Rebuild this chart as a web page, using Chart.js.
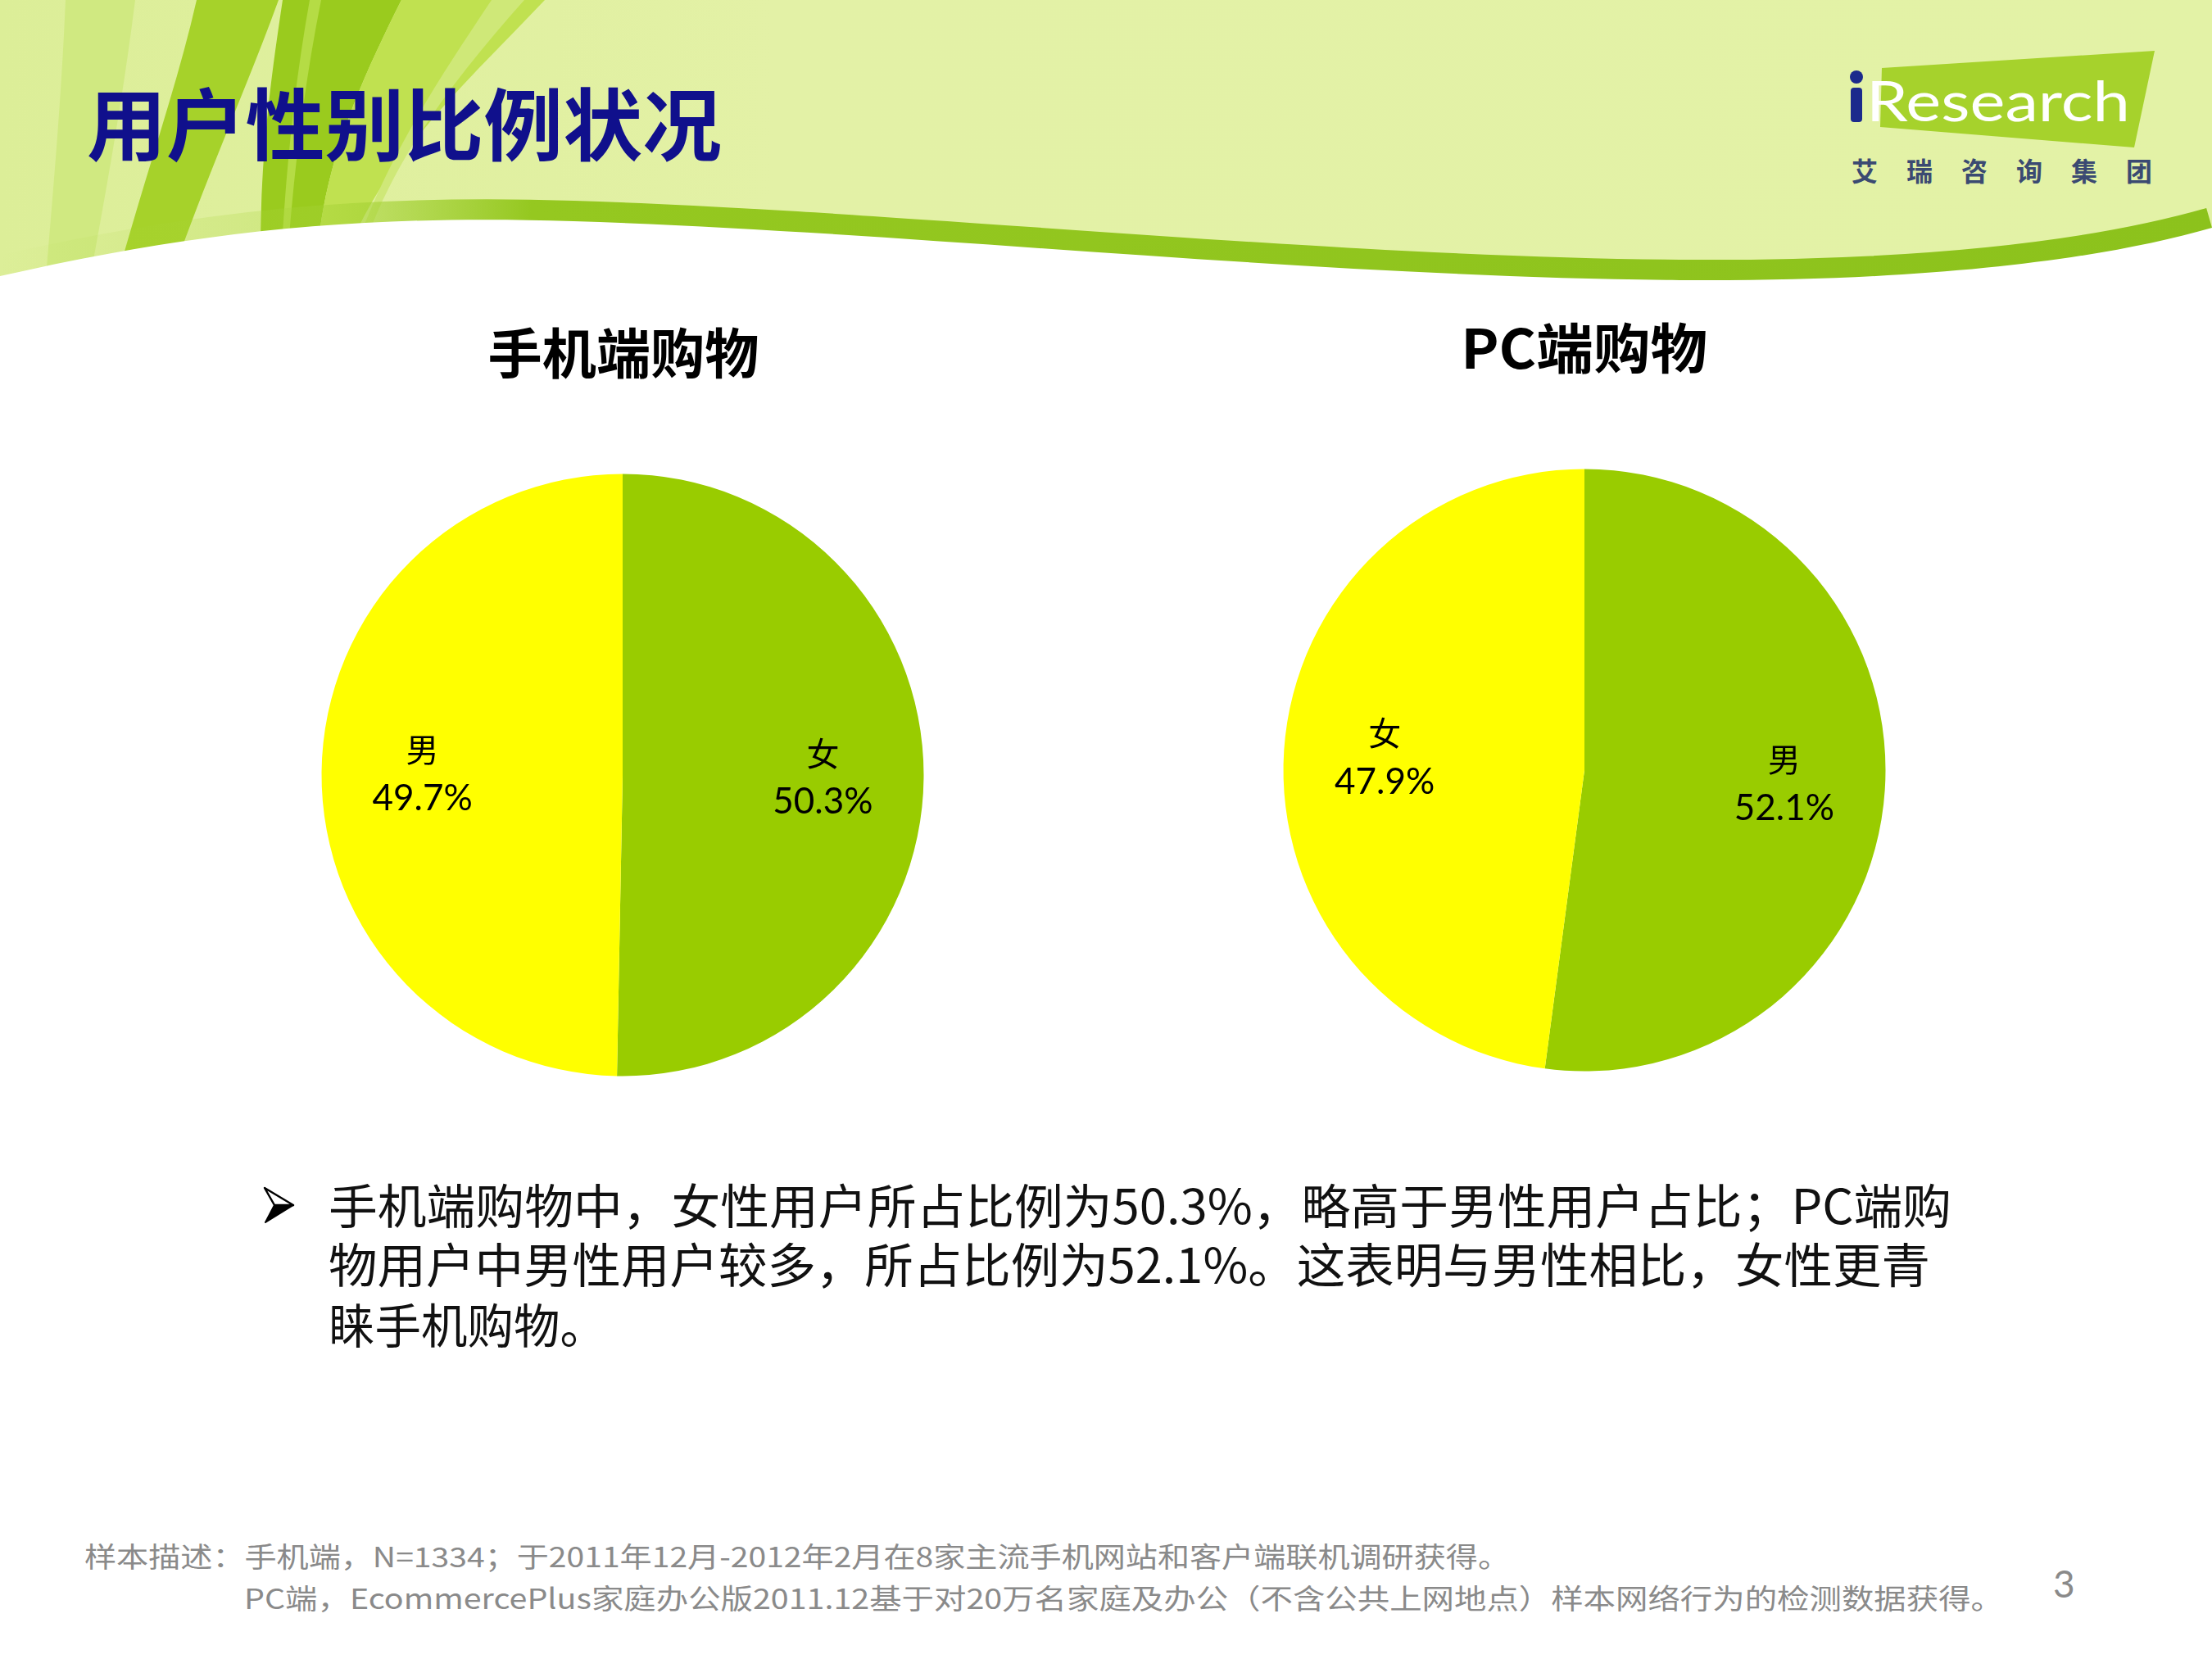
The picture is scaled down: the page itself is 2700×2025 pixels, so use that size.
<!DOCTYPE html>
<html>
<head>
<meta charset="utf-8">
<script src="https://cdn.jsdelivr.net/npm/chart.js@4.4.1/dist/chart.umd.min.js"></script>
<style>
  html, body { margin:0; padding:0; background:#fff; }
  #page { position:relative; width:2700px; height:2025px; overflow:hidden; background:#fff; }
  .t { position:absolute; white-space:nowrap; display:inline-block; transform-origin:left center; }
  canvas { position:absolute; }
</style>
</head>
<body>
<div id="page">
  <svg id="hdr" width="2700" height="420" style="position:absolute;left:0;top:0">
    <defs>
      <linearGradient id="bandGrad" x1="0" y1="0" x2="2700" y2="0" gradientUnits="userSpaceOnUse">
        <stop offset="0" stop-color="#a8d43a" stop-opacity="0"/>
        <stop offset="0.12" stop-color="#a8d43a" stop-opacity="0.25"/>
        <stop offset="0.24" stop-color="#95c820" stop-opacity="1"/>
        <stop offset="1" stop-color="#8cc21c" stop-opacity="1"/>
      </linearGradient>
      <linearGradient id="bgGrad" x1="0" y1="0" x2="2700" y2="0" gradientUnits="userSpaceOnUse">
        <stop offset="0" stop-color="#dcee98"/>
        <stop offset="0.35" stop-color="#e3f1a6"/>
        <stop offset="1" stop-color="#e3f2a6"/>
      </linearGradient>
    </defs>
    <rect x="0" y="0" width="2700" height="420" fill="url(#bgGrad)"/>
    <path d="M80,0 L165,0 C150,120 130,230 108,350 L55,350 C65,230 75,120 80,0 Z" fill="#d0e981"/>
    <path d="M240,0 L340,0 C300,110 250,220 205,350 L140,350 C175,220 215,110 240,0 Z" fill="#a6d22a"/>
    <path d="M345,0 L490,0 C440,100 400,190 388,300 L318,310 C318,190 330,100 345,0 Z" fill="#9acb1e"/>
    <path d="M378,0 L392,0 C372,100 360,200 352,300 L344,300 C350,200 360,100 378,0 Z" fill="#b5dc45"/>
    <path d="M490,0 L665,0 C580,90 480,180 432,290 L388,300 C400,190 440,100 490,0 Z" fill="#c0e150"/>
    <path d="M600,0 L640,0 C560,90 490,180 450,285 L440,287 C480,180 540,90 600,0 Z" fill="#cfe878"/>
    <path d="M0,337 C250,280 450,262 700,270 C1100,282 1600,338 2050,342 C2350,344 2560,318 2700,278" fill="none" stroke="url(#bandGrad)" stroke-width="50"/>
    <path d="M0,337 C250,280 450,262 700,270 C1100,282 1600,338 2050,342 C2350,344 2560,318 2700,278 L2700,420 L0,420 Z" fill="#ffffff"/>
    <!-- logo -->
    <polygon points="2297,83 2630,62 2605,180 2295,155" fill="#a6d22c"/>
    <circle cx="2266" cy="94" r="8" fill="#1c2a8c"/>
    <rect x="2259" y="107" width="14" height="42" rx="4" fill="#1c2a8c"/>
  </svg>

  <div class="t" id="logoText" data-w="322" style="left:2278px;top:88px;font:400 68px Lato, 'Open Sans', sans-serif;color:#ffffff;line-height:68px;">Research</div>
  <div class="t" id="logoCn" style="left:2260px;top:190px;font:700 32px 'Noto Sans CJK SC';color:#3b4a72;line-height:34px;letter-spacing:35px;">艾瑞咨询集团</div>

  <div class="t" id="mainTitle" data-w="775" style="left:106px;top:97px;font:700 96px 'Noto Sans CJK SC';color:#10108c;line-height:100px;">用户性别比例状况</div>

  <div class="t" id="title1" data-w="331" data-c="761" style="top:393px;font:700 66px 'Noto Sans CJK SC';color:#000;line-height:68px;"></div>
  <div class="t" id="title2" data-w="301" data-c="1934" style="top:387px;font:700 66px 'Noto Sans CJK SC';color:#000;line-height:68px;"></div>

  <canvas id="pie1" width="800" height="800" style="left:360px;top:546px;width:800px;height:800px"></canvas>
  <canvas id="pie2" width="800" height="800" style="left:1534px;top:540px;width:800px;height:800px"></canvas>

  <svg width="40" height="46" style="position:absolute;left:320px;top:1448px">
    <polygon points="3,2 38,23 15,23" fill="#ffffff" stroke="#000" stroke-width="2.5" stroke-linejoin="round"/>
    <polygon points="15,23 38,23 4,44" fill="#000" stroke="#000" stroke-width="2" stroke-linejoin="round"/>
  </svg>
  <div class="t" id="b1" data-w="1981" style="left:401px;top:1440px;font:400 58px 'Noto Sans CJK SC';color:#111;line-height:58px;"></div>
  <div class="t" id="b2" data-w="1955" style="left:401px;top:1512px;font:400 58px 'Noto Sans CJK SC';color:#111;line-height:58px;"></div>
  <div class="t" id="b3" data-w="339" style="left:401px;top:1586px;font:400 58px 'Noto Sans CJK SC';color:#111;line-height:58px;"></div>

  <div class="t" id="f1" data-w="1740" style="left:103px;top:1881px;font:400 34px 'Noto Sans CJK SC';color:#8a8a8a;line-height:36px;"></div>
  <div class="t" id="f2" data-w="2147" style="left:298px;top:1932px;font:400 34px 'Noto Sans CJK SC';color:#8a8a8a;line-height:36px;"></div>
  <div class="t" style="left:2506px;top:1908px;font:400 46px Lato, sans-serif;color:#8a8a8a;line-height:50px;">3</div>
</div>

<script>
// ---- data ----
const chartTitles = ['手机端购物', 'PC端购物'];
const mobileLabels = ['女', '男'];
const mobileValues = [50.3, 49.7];
const pcLabels = ['男', '女'];
const pcValues = [52.1, 47.9];
const sliceColors = ['#99cc00', '#ffff00'];
const bulletLines = [
  '手机端购物中，女性用户所占比例为50.3%，略高于男性用户占比；PC端购',
  '物用户中男性用户较多，所占比例为52.1%。这表明与男性相比，女性更青',
  '睐手机购物。'
];
const footLines = [
  '样本描述：手机端，N=1334；于2011年12月-2012年2月在8家主流手机网站和客户端联机调研获得。',
  'PC端，EcommercePlus家庭办公版2011.12基于对20万名家庭及办公（不含公共上网地点）样本网络行为的检测数据获得。'
];

document.getElementById('title1').textContent = chartTitles[0];
document.getElementById('title2').textContent = chartTitles[1];
['b1','b2','b3'].forEach((id,i)=>document.getElementById(id).textContent = bulletLines[i]);
['f1','f2'].forEach((id,i)=>document.getElementById(id).textContent = footLines[i]);

function fitTexts(){
  document.querySelectorAll('.t[data-w]').forEach(el=>{
    el.style.transform='none';
    const w = el.getBoundingClientRect().width;
    const target = parseFloat(el.dataset.w);
    const s = target / w;
    if (el.dataset.c) {
      el.style.left = (parseFloat(el.dataset.c) - w/2) + 'px';
      el.style.transformOrigin = 'center center';
    }
    el.style.transform = 'scaleX(' + s + ')';
  });
}

const sliceLabelPlugin = {
  id: 'sliceLabels',
  afterDatasetsDraw(chart) {
    const ctx = chart.ctx;
    const meta = chart.getDatasetMeta(0);
    const vals = chart.data.datasets[0].data;
    meta.data.forEach((arc, i) => {
      const p = arc.getProps(['x','y','startAngle','endAngle','outerRadius'], true);
      const mid = (p.startAngle + p.endAngle) / 2;
      const d = p.outerRadius * 0.665;
      const px = p.x + Math.cos(mid) * d;
      const py = p.y + Math.sin(mid) * d;
      ctx.save();
      ctx.fillStyle = '#000';
      ctx.textAlign = 'center';
      ctx.textBaseline = 'middle';
      ctx.font = '400 40px "Noto Sans CJK SC"';
      ctx.fillText(chart.data.labels[i], px, py - 29);
      ctx.font = '400 44px Lato, "Noto Sans"';
      ctx.fillText(vals[i].toFixed(1) + '%', px, py + 31);
      ctx.restore();
    });
  }
};

function makePie(id, labels, values) {
  return new Chart(document.getElementById(id), {
    type: 'pie',
    data: {
      labels: labels,
      datasets: [{ data: values, backgroundColor: sliceColors, borderWidth: 0, hoverOffset: 0 }]
    },
    options: {
      responsive: false,
      devicePixelRatio: 1,
      animation: false,
      radius: 367.5,
      layout: { padding: 0 },
      plugins: { legend: { display: false }, tooltip: { enabled: false }, title: { display: false } }
    },
    plugins: [sliceLabelPlugin]
  });
}

Promise.all([
  document.fonts.load('400 40px "Noto Sans CJK SC"', '男女'),
  document.fonts.load('700 40px "Noto Sans CJK SC"', '男女'),
  document.fonts.load('400 44px Lato', '0123456789%Research')
]).catch(()=>{}).then(()=>document.fonts.ready).then(()=>{
  fitTexts();
  makePie('pie1', mobileLabels, mobileValues);
  makePie('pie2', pcLabels, pcValues);
});
</script>
</body>
</html>
